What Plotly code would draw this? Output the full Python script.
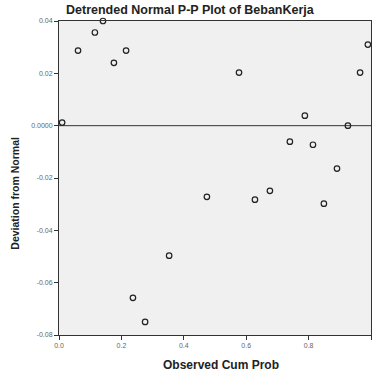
import plotly.graph_objects as go

observed_cum_prob = [0.010, 0.061, 0.115, 0.141, 0.176, 0.215, 0.237, 0.276, 0.353, 0.474,
                     0.577, 0.628, 0.676, 0.740, 0.788, 0.814, 0.849, 0.891, 0.926, 0.965, 0.990]
deviation = [0.0012, 0.0287, 0.0356, 0.0400, 0.0240, 0.0287, -0.0658, -0.0750, -0.0497, -0.0272,
             0.0203, -0.0283, -0.0249, -0.0061, 0.0038, -0.0073, -0.0298, -0.0164, 0.0, 0.0203, 0.0310]

y_ticks = [0.04, 0.02, 0.0, -0.02, -0.04, -0.06, -0.08]
y_labels = ["0.04", "0.02", "0.0000", "-0.02", "-0.04", "-0.06", "-0.08"]
x_ticks = [0.0, 0.2, 0.4, 0.6, 0.8, 1.0]
x_labels = ["0.0", "0.2", "0.4", "0.6", "0.8", "1"]

fig = go.Figure()
fig.add_trace(go.Scatter(
    x=observed_cum_prob, y=deviation, mode="markers",
    marker=dict(symbol="circle-open", size=5.5, color="#222222", line=dict(width=1.2)),
    showlegend=False, cliponaxis=False))

fig.add_shape(type="line", xref="x", yref="y", x0=0, x1=1, y0=0, y1=0,
              line=dict(color="#333333", width=1), layer="below")

fig.add_annotation(text="<b>Detrended Normal P-P Plot of BebanKerja</b>",
                   xref="paper", yref="paper", x=0.42, y=1.0, yshift=11,
                   xanchor="center", yanchor="middle", showarrow=False,
                   font=dict(family="Arial, Liberation Sans", size=12.5, color="#222222"))
fig.add_annotation(text="<b>Observed Cum Prob</b>",
                   xref="paper", yref="paper", x=0.52, y=0, yshift=-30,
                   xanchor="center", yanchor="middle", showarrow=False,
                   font=dict(family="Arial, Liberation Sans", size=12, color="#222222"))
fig.add_annotation(text="<b>Deviation from Normal</b>",
                   xref="paper", yref="paper", x=0, xshift=-44, y=0.45,
                   xanchor="center", yanchor="middle", showarrow=False, textangle=-90,
                   font=dict(family="Arial, Liberation Sans", size=10.5, color="#222222"))

fig.update_layout(
    width=373, height=374,
    margin=dict(l=59, r=2, t=21, b=39),
    paper_bgcolor="white", plot_bgcolor="#f0f0f0",
    font=dict(family="Arial, Liberation Sans"),
)
fig.update_xaxes(range=[0, 1], tickvals=x_ticks, ticktext=x_labels,
                 showgrid=False, zeroline=False, showline=True, linecolor="#333333", linewidth=1,
                 mirror=True, ticks="outside", ticklen=4, tickcolor="#333333",
                 tickfont=dict(size=7, color="#666666"))
fig.update_yaxes(range=[-0.08, 0.04], tickvals=y_ticks, ticktext=y_labels,
                 showgrid=False, zeroline=False, showline=True, linecolor="#333333", linewidth=1,
                 mirror=True, ticks="outside", ticklen=4, tickcolor="#333333",
                 tickfont=dict(size=7, color="#666666"))

fig.write_html("out.html")
